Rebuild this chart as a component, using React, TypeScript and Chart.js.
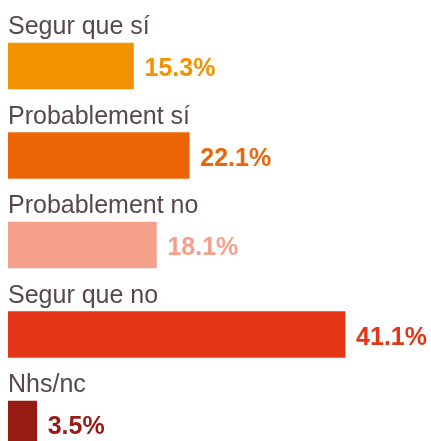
import React, { useEffect, useRef } from "react";
import { Chart, registerables } from "chart.js";

Chart.register(...registerables);

const categories = ["Segur que sí", "Probablement sí", "Probablement no", "Segur que no", "Nhs/nc"];
const values = [15.3, 22.1, 18.1, 41.1, 3.5];
const valueLabels = ["15.3%", "22.1%", "18.1%", "41.1%", "3.5%"];
const colors = ["#f39200", "#ec6608", "#f4a08a", "#e53517", "#951b13"];

const labelPlugin = {
  id: "barLabels",
  afterDraw(chart: any) {
    const ctx = chart.ctx;
    const meta = chart.getDatasetMeta(0);
    ctx.save();
    meta.data.forEach((bar: any, i: number) => {
      const top = bar.y - bar.height / 2;
      ctx.textAlign = "left";
      ctx.textBaseline = "alphabetic";
      ctx.font = "25px 'Liberation Sans', Arial, sans-serif";
      ctx.fillStyle = "#574850";
      ctx.fillText(categories[i], bar.base, top - 9);
      ctx.font = "bold 25px 'Liberation Sans', Arial, sans-serif";
      ctx.fillStyle = colors[i];
      ctx.fillText(valueLabels[i], bar.x + 11, bar.y + 10);
    });
    ctx.restore();
  },
};

export default function App() {
  const ref = useRef<HTMLCanvasElement>(null);
  useEffect(() => {
    document.body.style.overflow = "hidden";
    document.documentElement.style.overflow = "hidden";
    const chart = new Chart(ref.current!, {
      type: "bar",
      data: {
        labels: categories,
        datasets: [
          {
            data: values,
            backgroundColor: colors,
            borderWidth: 0,
            barThickness: 46,
          },
        ],
      },
      options: {
        indexAxis: "y",
        animation: false,
        responsive: true,
        maintainAspectRatio: false,
        layout: { padding: { top: 13.25, bottom: 9.25, left: 0, right: 8 } },
        plugins: { legend: { display: false }, tooltip: { enabled: false } },
        scales: {
          x: { display: false, min: 0, max: 50.6 },
          y: { display: false },
        },
      },
      plugins: [labelPlugin],
    });
    return () => chart.destroy();
  }, []);
  return (
    <div style={{ position: "absolute", left: 8, top: 8, height: 433, width: 423, overflow: "hidden" }}>
      <div style={{ position: "relative", height: 470, width: 423 }}>
        <canvas ref={ref} />
      </div>
    </div>
  );
}
